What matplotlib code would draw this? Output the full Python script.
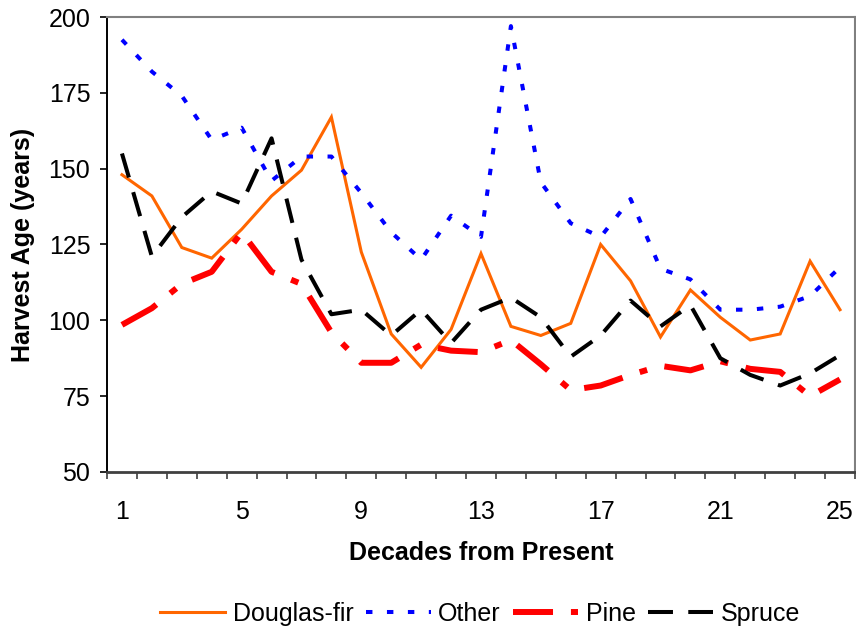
import numpy as np
import matplotlib
matplotlib.use("Agg")
from matplotlib import pyplot as plt

plt.rcParams['font.family'] = ['Liberation Sans', 'DejaVu Sans']

decades = list(range(1, 26))
tick_labels = ['1', '5', '9', '13', '17', '21', '25']

douglas_fir = [148, 141, 124, 120.5, 130, 141, 149.5, 167, 122.5, 95.5, 84.5, 97, 122,
               98, 95, 99, 125, 113, 94.5, 110, 101, 93.5, 95.5, 119.5, 103.5]
other = [192.5, 182, 174, 159.5, 163.5, 146, 154, 154, 142, 129, 120, 134.5, 127.5,
         197, 145.5, 132, 127.5, 140, 117, 113.5, 103.5, 103.5, 104.5, 108, 117.5]
pine = [98.5, 104, 112, 116, 129, 116, 112, 96, 86, 86, 92, 90, 89.5,
        93.5, 85.5, 77, 78.5, 82, 85, 83.5, 86.5, 84, 83, 75, 80.5]
spruce = [155, 121, 134, 142.5, 138.5, 160, 120, 102, 103.5, 95, 103.5, 92.5, 103.5,
          107.5, 101, 88, 95, 106.5, 98, 105, 87.5, 82, 78.5, 82.5, 88.5]

fig = plt.figure(figsize=(8.56, 6.32), dpi=100)
ax = fig.add_axes([0.125, 0.2532, 0.8738, 0.7199])

ax.plot(decades, douglas_fir, color='#FF6600', lw=2.2, label='Douglas-fir',
        solid_joinstyle='miter')
ax.plot(decades, other, color='#0000FF', lw=2.9, dashes=(1.6, 3.6), label='Other')
ax.plot(decades, pine, color='#FF0000', lw=4.3, dashes=(6.7, 3.0, 1.3, 3.0), label='Pine')
ax.plot(decades, spruce, color='#000000', lw=2.9, dashes=(6.2, 3.8), label='Spruce')

ax.set_xlim(0.5, 25.5)
ax.set_ylim(50, 200)
ax.set_yticks([50, 75, 100, 125, 150, 175, 200])
ax.set_xticks([1, 5, 9, 13, 17, 21, 25])
ax.set_xticklabels(tick_labels)
ax.set_xticks(np.arange(0.5, 26, 1), minor=True)

ax.tick_params(axis='y', direction='out', length=5, width=1.2, pad=7, labelsize=18)
ax.tick_params(axis='x', which='major', length=0, pad=20, labelsize=18)
ax.tick_params(axis='x', which='minor', direction='out', length=5, width=1.2, color='#404040')

ax.spines['left'].set_color('black')
ax.spines['left'].set_linewidth(1.4)
ax.spines['bottom'].set_color('#404040')
ax.spines['bottom'].set_linewidth(2)
for s in ['top', 'right']:
    ax.spines[s].set_color('#808080')
    ax.spines[s].set_linewidth(1.5)

ax.set_xlabel('Decades from Present', fontsize=18, fontweight='bold')
ax.set_ylabel('Harvest Age (years)', fontsize=18, fontweight='bold')
ax.xaxis.set_label_coords(0.5, -0.152)
ax.yaxis.set_label_coords(-0.096, 0.5)

fig.legend(loc='center', bbox_to_anchor=(0.561, 1 - 614 / 632), ncol=4, frameon=False,
           fontsize=18, handlelength=2.6, handletextpad=0.3, columnspacing=0.5,
           borderaxespad=0)

fig.savefig('out.png', dpi=100)
